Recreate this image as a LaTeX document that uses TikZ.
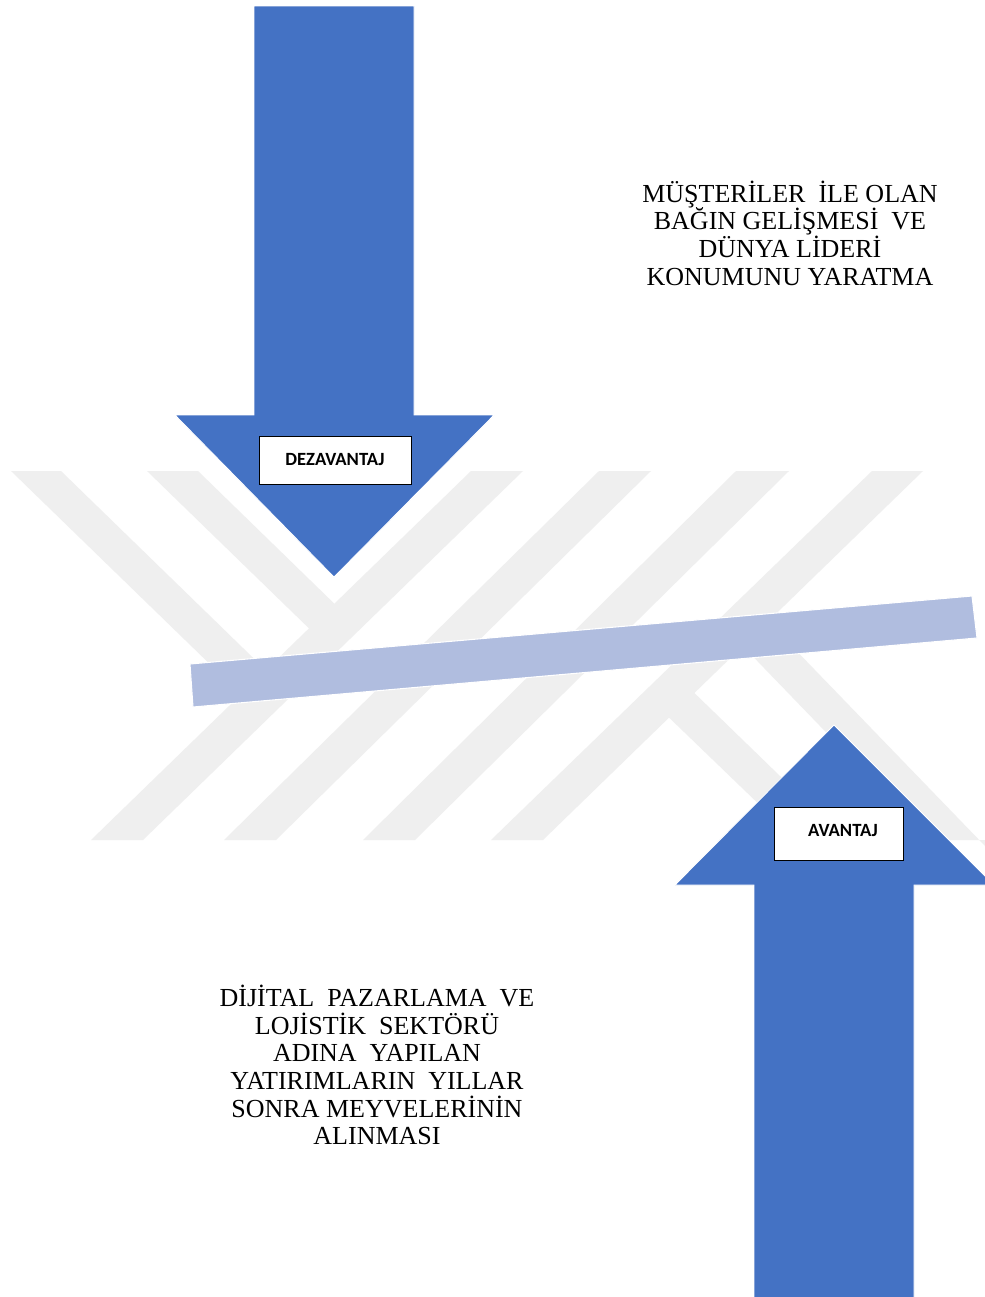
\documentclass[tikz,border=0pt]{standalone}
\usepackage{fontspec}
\setmainfont{Liberation Serif}
\newfontfamily\labelfont{Carlito}
\definecolor{arrowblue}{HTML}{4472C4}
\definecolor{barblue}{HTML}{B0BDDF}
\definecolor{wmgray}{HTML}{EFEFEF}
\begin{document}
\begin{tikzpicture}[x=0.75pt,y=-0.75pt,
  stripe/.style={fill=wmgray,draw=none},
  bigarrow/.style={fill=arrowblue,draw=white,line width=0.6pt},
  slantbar/.style={fill=barblue,draw=white,line width=0.8pt},
  labelbox/.style={draw=black,fill=white,line width=0.75pt,inner sep=0pt,
    font=\labelfont\bfseries\fontsize{14}{16}\selectfont},
  bigtext/.style={align=center,inner sep=0pt,
    font=\fontsize{19.5}{20.8}\selectfont}]
\useasboundingbox[fill=white] (0,0) rectangle (985,1297);
% watermark stripes
\fill[stripe] (11,471) -- (61,471) -- (279,683) -- (254,707) -- cycle;
\fill[stripe] (147,471) -- (198,471) -- (347,616) -- (322,641) -- cycle;
\fill[stripe] (471,471) -- (523,471) -- (143,840) -- (91,840) -- cycle;
\fill[stripe] (599,471) -- (651,471) -- (276,840) -- (224,840) -- cycle;
\fill[stripe] (736,471) -- (789,471) -- (415,840) -- (363,840) -- cycle;
\fill[stripe] (872,471) -- (923,471) -- (543,840) -- (491,840) -- cycle;
\fill[stripe] (656,705) -- (681,680) -- (846,840) -- (796,840) -- cycle;
\fill[stripe] (737,640) -- (786,640) -- (985,846) -- (985,840) -- (930,840) -- cycle;
% slanted bar
\draw[slantbar] (190,664) -- (972,596) -- (977,638) -- (193,707) -- cycle;
% arrows
\draw[bigarrow] (254,6) -- (414,6) -- (414,415) -- (494,415) -- (334,577)
  -- (175,415) -- (254,415) -- cycle;
\draw[bigarrow] (754,1300) -- (914,1300) -- (914,885) -- (994,885) -- (834,725)
  -- (675,885) -- (754,885) -- cycle;
% label boxes
\node[labelbox,minimum width=114pt,minimum height=36pt] (dez) at (335,460) {DEZAVANTAJ};
\node[labelbox,minimum width=96.75pt,minimum height=39.75pt] (avn) at (838.5,834) {\hspace*{6.75pt}AVANTAJ\rule[-6pt]{0pt}{1pt}};
% texts
\node[bigtext] (toptext) at (790,233) {MÜŞTERİLER\ \ İLE OLAN\\BAĞIN GELİŞMESİ\ \ VE\\DÜNYA LİDERİ\\KONUMUNU YARATMA};
\node[bigtext] (bottext) at (377,1065) {DİJİTAL\ \ PAZARLAMA\ \ VE\\LOJİSTİK\ \ SEKTÖRÜ\\ADINA\ \ YAPILAN\\YATIRIMLARIN\ \ YILLAR\\SONRA MEYVELERİNİN\\ALINMASI};
\end{tikzpicture}
\end{document}
